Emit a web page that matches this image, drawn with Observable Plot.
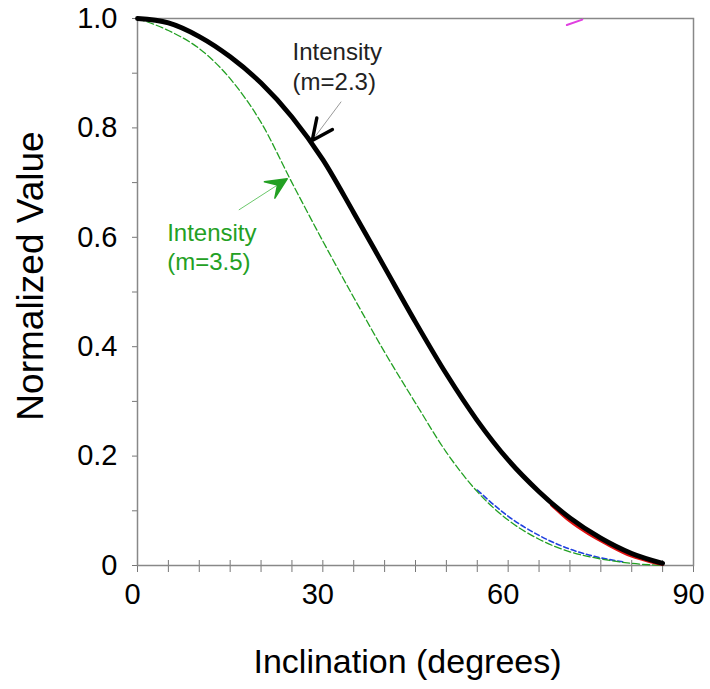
<!DOCTYPE html>
<html>
<head>
<meta charset="utf-8">
<script src="https://cdn.jsdelivr.net/npm/d3@7"></script>
<script src="https://cdn.jsdelivr.net/npm/@observablehq/plot@0.6"></script>
<style>
  body { margin: 0; background: #fff; }
  svg { display: block; }
</style>
</head>
<body>
<div id="chart"></div>
<script>
// ---- data ----
const angles = [0, 5, 10, 15, 20, 25, 30, 35, 40, 45, 50, 55, 60, 65, 70, 75, 80, 85];
const intensityM23 = [1.0, 0.992, 0.967, 0.93, 0.882, 0.82, 0.742, 0.645, 0.545, 0.445, 0.35, 0.265, 0.193, 0.135, 0.087, 0.05, 0.022, 0.004];
const intensityM35 = [1.0, 0.978, 0.945, 0.89, 0.81, 0.70, 0.593, 0.49, 0.39, 0.297, 0.207, 0.135, 0.083, 0.048, 0.025, 0.012, 0.004, 0.0];

// partially hidden curves peeking out under the main ones
const redAngles = [67, 70, 73, 76, 80, 83, 85];
const redValues = [0.111, 0.081, 0.058, 0.039, 0.017, 0.007, 0.002];
const blueAngles = [55, 58, 60, 65, 70, 75, 79];
const blueValues = [0.138, 0.108, 0.09, 0.055, 0.03, 0.014, 0.006];
const magentaAngles = [69.5, 72];
const magentaValues = [0.988, 0.998];

// ticks
const xTicks = d3.range(0, 91, 5);
const xTickLabels = [0, 30, 60, 90];
const yTicks = d3.range(0, 11).map(i => i / 10);
const yTickLabels = [0, 0.2, 0.4, 0.6, 0.8, 1.0];

// annotations
const annBlackText = ["Intensity", "(m=2.3)"];
const annBlackX = [25.1, 25.1];
const annBlackY = [0.9245, 0.870];
const annGreenText = ["Intensity", "(m=3.5)"];
const annGreenX = [4.8, 4.8];
const annGreenY = [0.594, 0.541];
const arrowBlack = {x1: 32.97, y1: 0.848, x2: 28.28, y2: 0.777, rotate: 216.6};
const arrowGreen = {x1: 16.40, y1: 0.650, x2: 24.23, y2: 0.707, rotate: 57.4};

const BLACK = "#000000";
const GREEN = "#23a023";

const pts = (xs, ys) => xs.map((x, i) => ({x, y: ys[i]}));
const lab = (ts, xs, ys) => ts.map((t, i) => ({t, x: xs[i], y: ys[i]}));

const chevron = {
  draw(ctx, l) {
    const h = l * Math.cos(25 * Math.PI / 180), w = l * Math.sin(25 * Math.PI / 180);
    ctx.moveTo(-w, h); ctx.lineTo(0, 0); ctx.lineTo(w, h);
  }
};
const barbed = {
  draw(ctx, l) {
    const h = l * Math.cos(25 * Math.PI / 180), w = l * Math.sin(25 * Math.PI / 180);
    ctx.moveTo(-w, h); ctx.lineTo(0, 0); ctx.lineTo(w, h); ctx.lineTo(0, h * 0.55); ctx.closePath();
  }
};

const font = "'Liberation Sans', Arial, Helvetica, sans-serif";

const chart = Plot.plot({
  width: 710,
  height: 689,
  marginLeft: 137,
  marginRight: 17,
  marginTop: 18,
  marginBottom: 124,
  x: {domain: [0, 90]},
  y: {domain: [0, 1]},
  style: {fontFamily: font, background: "white", color: "black"},
  marks: [
    // axes ticks
    Plot.axisX({ticks: xTicks, tickSize: 12, dy: -5, text: null, label: null, stroke: "#777"}),
    Plot.axisX({ticks: xTickLabels, tickSize: 0, tickPadding: 18, label: null, fontSize: 29, dx: -5}),
    Plot.axisY({ticks: yTicks, tickSize: 5, text: null, label: null, stroke: "#777"}),
    Plot.axisY({ticks: yTickLabels, tickSize: 0, tickPadding: 20, label: null, fontSize: 29,
      tickFormat: d => d === 0 ? "0" : d.toFixed(1)}),
    Plot.frame({stroke: "#888", strokeWidth: 1.5}),
    // hidden curves
    Plot.line(pts(blueAngles, blueValues), {x: "x", y: "y", stroke: "#2040e0", strokeWidth: 1.6, strokeDasharray: "5,3", curve: "monotone-x"}),
    Plot.line(pts(angles, intensityM35), {x: "x", y: "y", stroke: GREEN, strokeWidth: 1.3, strokeDasharray: "7,3", curve: "monotone-x"}),
    Plot.line(pts(redAngles, redValues), {x: "x", y: "y", stroke: "#e01010", strokeWidth: 3, curve: "monotone-x"}),
    Plot.line(pts(angles, intensityM23), {x: "x", y: "y", stroke: BLACK, strokeWidth: 4.8, strokeLinecap: "round", curve: "monotone-x"}),
    Plot.line(pts(magentaAngles, magentaValues), {x: "x", y: "y", stroke: "#e040e0", strokeWidth: 2}),
    // annotation arrows
    Plot.link([arrowBlack], {x1: "x1", y1: "y1", x2: "x2", y2: "y2", stroke: "#999", strokeWidth: 1}),
    Plot.vector([arrowBlack], {x: "x2", y: "y2", rotate: "rotate", length: 23, anchor: "start", shape: chevron, stroke: BLACK, strokeWidth: 3.4, fill: "none"}),
    Plot.link([arrowGreen], {x1: "x1", y1: "y1", x2: "x2", y2: "y2", stroke: "#6cc86c", strokeWidth: 1}),
    Plot.vector([arrowGreen], {x: "x2", y: "y2", rotate: "rotate", length: 23, anchor: "start", shape: barbed, stroke: GREEN, strokeWidth: 1.5, fill: GREEN}),
    // annotation labels
    Plot.text(lab(annBlackText, annBlackX, annBlackY), {x: "x", y: "y", text: "t", textAnchor: "start", lineAnchor: "bottom", fontSize: 24, fill: "#222"}),
    Plot.text(lab(annGreenText, annGreenX, annGreenY), {x: "x", y: "y", text: "t", textAnchor: "start", lineAnchor: "bottom", fontSize: 24, fill: GREEN}),
    // axis titles
    Plot.text(["Normalized Value"], {frameAnchor: "left", textAnchor: "middle", lineAnchor: "middle", rotate: -90, dx: -106, dy: -16, fontSize: 37, fill: "black"}),
    Plot.text(["Inclination (degrees)"], {frameAnchor: "bottom", textAnchor: "middle", lineAnchor: "middle", dx: -8, dy: 97, fontSize: 34, fill: "black"})
  ]
});

document.getElementById("chart").appendChild(chart);
</script>
</body>
</html>
